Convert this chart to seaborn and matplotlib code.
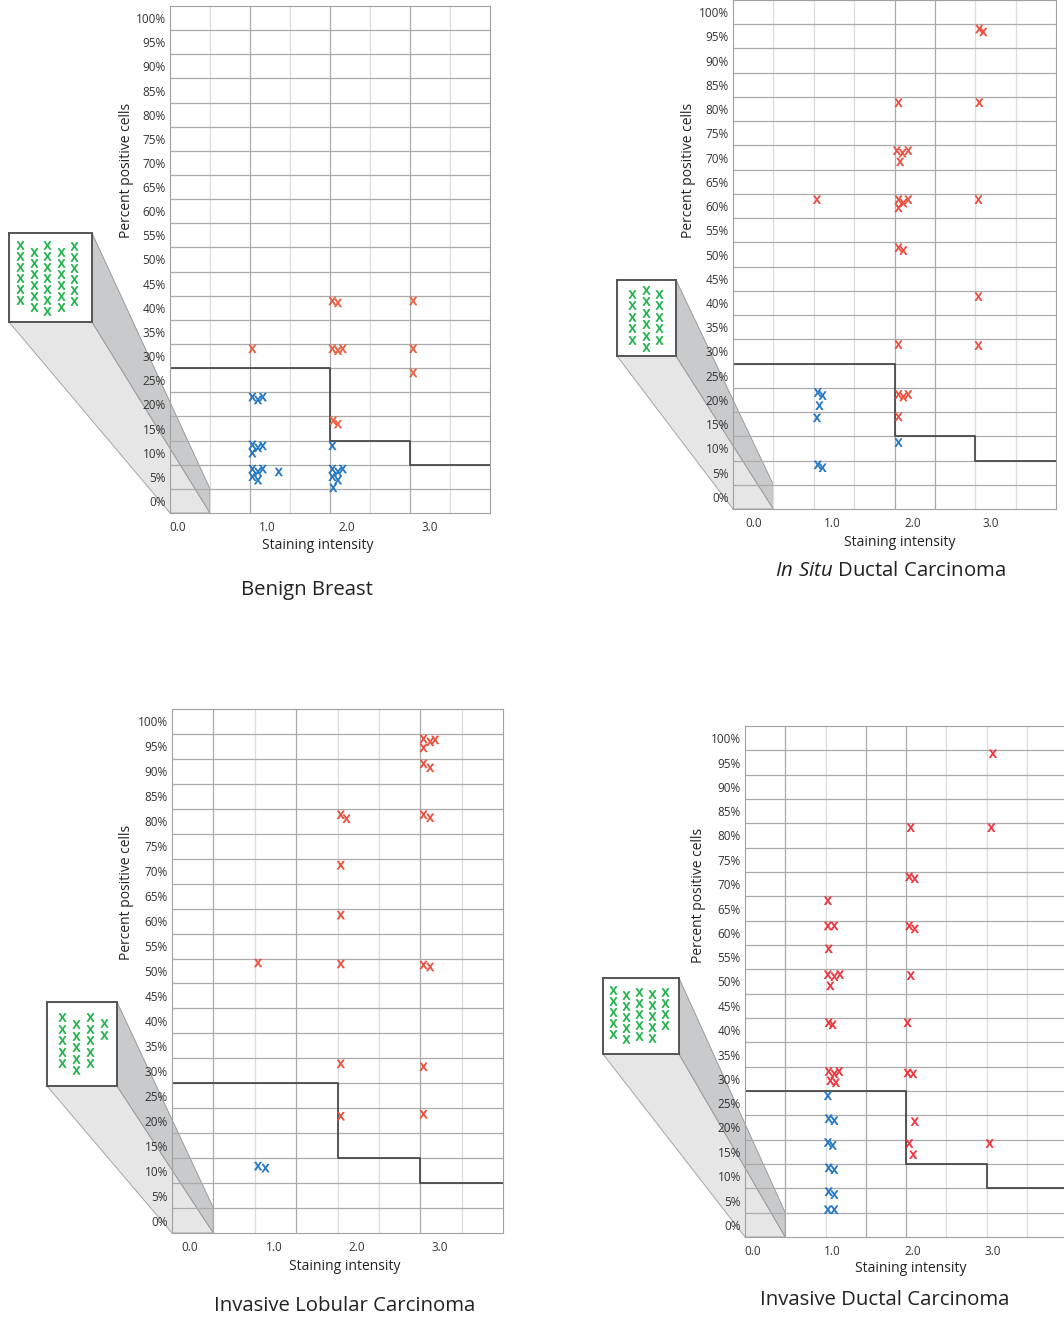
import numpy as np
import pandas as pd
import matplotlib.pyplot as plt
import seaborn as sns
from matplotlib.patches import Polygon

sns.set_style("white")
plt.rcParams["font.family"] = ["Open Sans", "DejaVu Sans"]
plt.rcParams["mathtext.fontset"] = "custom"
plt.rcParams["mathtext.rm"] = "Open Sans"
plt.rcParams["mathtext.it"] = "Open Sans:italic"
plt.rcParams["mathtext.sf"] = "Open Sans"

# ------------------------------------------------------------
# data
# ------------------------------------------------------------
titles = ["Benign Breast", r"$\mathit{In\ Situ}$ Ductal Carcinoma",
          "Invasive Lobular Carcinoma", "Invasive Ductal Carcinoma"]
pct_ticks = list(range(0, 101, 5))
int_labels = ["0.0", "1.0", "2.0", "3.0"]

# cut-off step line (same in every panel)
cut_x = [0, 2, 3, 4]
cut_y = [27.5, 12.5, 7.5, 7.5]

# Benign Breast
bb_pos_x = [2.03, 2.10, 3.04, 1.03, 2.03, 2.10, 2.16, 3.04, 3.04, 2.04, 2.10]
bb_pos_y = [41.4, 41.0, 41.4, 31.5, 31.5, 31.1, 31.5, 31.5, 26.5, 16.6, 15.9]
bb_neg_x = [1.03, 1.10, 1.16, 1.03, 1.10, 1.16, 1.03, 2.03,
            1.03, 1.10, 1.16, 1.03, 1.10, 1.36,
            2.03, 2.10, 2.16, 2.03, 2.10, 2.04]
bb_neg_y = [21.5, 20.9, 21.5, 11.6, 11.0, 11.4, 9.9, 11.4,
            6.6, 6.0, 6.6, 5.0, 4.3, 6.0,
            6.6, 6.0, 6.6, 5.0, 4.3, 2.7]
bb_zero = [6, 6, 7, 6, 6]

# In Situ Ductal Carcinoma
dc_pos_x = [3.05, 3.10, 2.05, 3.05, 2.03, 2.10, 2.17, 2.07,
            1.04, 2.05, 2.11, 2.17, 2.05, 3.04, 2.05, 2.11,
            3.04, 2.05, 3.04, 2.05, 2.11, 2.17, 2.05]
dc_pos_y = [96.5, 95.9, 81.3, 81.3, 71.4, 70.9, 71.4, 69.1,
            61.3, 61.3, 60.6, 61.3, 59.6, 61.3, 51.4, 50.8,
            41.3, 31.4, 31.2, 21.1, 20.6, 21.1, 16.5]
dc_neg_x = [1.05, 1.11, 1.07, 1.04, 2.05, 1.05, 1.11]
dc_neg_y = [21.5, 20.9, 18.8, 16.3, 11.2, 6.6, 6.0]
dc_zero = [5, 6, 5]

# Invasive Lobular Carcinoma
lc_pos_x = [1.04, 2.04, 2.11, 2.04, 2.04, 2.04, 2.04, 2.04,
            3.04, 3.12, 3.18, 3.04, 3.04, 3.12, 3.04, 3.12,
            3.04, 3.12, 3.04, 3.04]
lc_pos_y = [51.6, 81.3, 80.5, 71.2, 61.2, 51.4, 31.4, 20.9,
            96.5, 95.9, 96.3, 94.7, 91.5, 90.7, 81.3, 80.7,
            51.2, 50.8, 30.8, 21.3]
lc_neg_x = [1.04, 1.13]
lc_neg_y = [10.9, 10.5]
lc_zero = [5, 5, 5, 2]

# Invasive Ductal Carcinoma
ic_pos_x = [3.08, 2.06, 3.06, 2.04, 2.11, 1.03, 1.03, 1.11, 2.04, 2.11,
            1.04, 1.03, 1.11, 1.18, 1.06, 2.06, 1.04, 1.09, 2.02,
            1.04, 1.11, 1.17, 1.06, 1.13, 2.02, 2.09, 2.11, 2.04, 2.09, 3.04]
ic_pos_y = [96.8, 81.6, 81.6, 71.5, 71.1, 66.6, 61.4, 61.4, 61.4, 60.8,
            56.7, 51.4, 51.0, 51.4, 49.1, 51.2, 41.5, 41.1, 41.5,
            31.5, 31.0, 31.5, 29.6, 29.2, 31.2, 31.0, 21.2, 16.7, 14.4, 16.7]
ic_neg_x = [1.03, 1.04, 1.11, 1.03, 1.09, 1.04, 1.11, 1.04, 1.11, 1.03, 1.11]
ic_neg_y = [26.5, 21.8, 21.4, 16.9, 16.3, 11.7, 11.3, 6.8, 6.2, 3.1, 3.1]
ic_zero = [5, 5, 5, 5, 4]

# ------------------------------------------------------------
# layout (pixels in the 1064x1321 canvas)
# ------------------------------------------------------------
W, H = 1064, 1321
panels = [
    dict(pos=(bb_pos_x, bb_pos_y), neg=(bb_neg_x, bb_neg_y), zero=bb_zero,
         ax=(170, 6, 490, 513), box=(9, 233, 92, 322),
         box_grid=(11, 13.5, 12, 11, [0, 7, 0, 7, 1]),
         xt=[0.09, 1.21, 2.21, 3.25], dark=[1.0, 2.0, 3.0],
         ylab=(127, 170), xlab=(318, 545), title=(307, 590),
         red="#ef5a3a"),
    dict(pos=(dc_pos_x, dc_pos_y), neg=(dc_neg_x, dc_neg_y), zero=dc_zero,
         ax=(733, 0, 1056, 509), box=(617, 280, 676, 356),
         box_grid=(15, 13.5, 14, 11.5, [0, -4, 0]),
         xt=[0.25, 1.23, 2.23, 3.19], dark=[2.0, 2.5],
         ylab=(688, 170), xlab=(900, 543), title=(891, 571),
         red="#ee4a3a"),
    dict(pos=(lc_pos_x, lc_pos_y), neg=(lc_neg_x, lc_neg_y), zero=lc_zero,
         ax=(172, 709, 503, 1233), box=(47, 1002, 117, 1086),
         box_grid=(15, 14, 15, 11.5, [0, 7, 0, 6]),
         xt=[0.21, 1.24, 2.23, 3.23], dark=[0.5, 1.5, 3.0],
         ylab=(127, 892), xlab=(345, 1266), title=(345, 1306),
         red="#ec4a38"),
    dict(pos=(ic_pos_x, ic_pos_y), neg=(ic_neg_x, ic_neg_y), zero=ic_zero,
         ax=(745, 726, 1067, 1237), box=(603, 978, 679, 1054),
         box_grid=(10, 13, 12, 11, [0, 5, 2, 4, 2]),
         xt=[0.09, 1.09, 2.09, 3.08], dark=[0.5, 1.5, 2.0],
         ylab=(698, 895), xlab=(911, 1269), title=(885, 1300),
         red="#f0303a"),
]

blue = "#1f74c4"
green = "#1fb24a"
xmark = r"$\mathsf{x}$"


def frac(px, py):
    return px / W, 1 - py / H


fig = plt.figure(figsize=(W / 100, H / 100), dpi=100)
fig.patch.set_facecolor("white")

for i, p in enumerate(panels):
    l, t, r, b = p["ax"]
    ax = fig.add_axes([l / W, 1 - b / H, (r - l) / W, (b - t) / H])
    ax.set_facecolor("none")
    ax.set_xlim(0, 4)
    ax.set_ylim(-2.5, 102.5)

    # grid
    for v in np.arange(0.5, 4.0, 0.5):
        ax.axvline(v, color="#a9a9a9" if v in p["dark"] else "#dcdcdc", lw=0.9, zorder=0)
    for h in np.arange(2.5, 102.5, 5):
        ax.axhline(h, color="#ababab", lw=0.9, zorder=0)
    for s in ax.spines.values():
        s.set_color("#a0a0a0")
        s.set_linewidth(0.8)

    # points
    df = pd.concat([
        pd.DataFrame({"intensity": p["pos"][0], "pct": p["pos"][1], "grp": "pos"}),
        pd.DataFrame({"intensity": p["neg"][0], "pct": p["neg"][1], "grp": "neg"}),
    ])
    sns.scatterplot(data=df, x="intensity", y="pct", hue="grp",
                    palette={"pos": p["red"], "neg": blue}, marker=xmark,
                    s=32, linewidth=0.5, edgecolor="face", legend=False, ax=ax, zorder=3)

    # cut-off line
    ax.step(cut_x, cut_y, where="post", color="#4a4a4a", lw=1.3, zorder=2)

    ax.set_yticks(pct_ticks)
    ax.set_yticklabels([f"{v}%" for v in pct_ticks])
    ax.set_xticks(p["xt"])
    ax.set_xticklabels(int_labels)
    ax.tick_params(length=0, labelsize=8.5, labelcolor="#333333")
    ax.tick_params(axis="y", pad=3)
    ax.tick_params(axis="x", pad=6)
    ax.set_xlabel("")
    ax.set_ylabel("")

    fig.text(*frac(*p["ylab"]), "Percent positive cells", rotation=90,
             ha="center", va="center", fontsize=10, color="#222222")
    fig.text(*frac(*p["xlab"]), "Staining intensity",
             ha="center", va="center", fontsize=10, color="#222222")
    fig.text(*frac(*p["title"]), titles[i],
             ha="center", va="center", fontsize=14.7, color="#222222")

    # perspective "zoom" from the corner cell to the inset box
    inv = fig.transFigure.inverted()
    far = inv.transform(ax.transData.transform([(0, -2.5), (0.5, -2.5), (0.5, 2.5)]))
    bl, bt, br, bb = p["box"]
    b_tr = frac(br, bt)
    b_br = frac(br, bb)
    b_bl = frac(bl, bb)
    side = Polygon([b_tr, far[2], far[1], b_br], closed=True, transform=fig.transFigure,
                   facecolor="#c9cacc", edgecolor="#9a9a9a", lw=0.7, zorder=-1)
    bottom = Polygon([b_bl, b_br, far[1], far[0]], closed=True, transform=fig.transFigure,
                     facecolor="#e6e6e6", edgecolor="#a5a5a5", lw=0.7, zorder=-2)
    fig.add_artist(bottom)
    fig.add_artist(side)

    # inset box with the negative cases
    bw, bh = br - bl, bb - bt
    box = fig.add_axes([bl / W, 1 - bb / H, bw / W, bh / H], zorder=5)
    box.set_facecolor("white")
    box.set_xlim(0, bw)
    box.set_ylim(bh, 0)
    box.set_xticks([])
    box.set_yticks([])
    for s in box.spines.values():
        s.set_color("#555555")
        s.set_linewidth(1.4)
    x0, dx, y0, dy, stag = p["box_grid"]
    gx, gy = [], []
    for c, n in enumerate(p["zero"]):
        for rr in range(n):
            gx.append(x0 + c * dx)
            gy.append(y0 + stag[c] + rr * dy)
    sns.scatterplot(x=gx, y=gy, marker=xmark, color=green, s=32,
                    linewidth=0.5, edgecolor=green, ax=box)

fig.savefig("out.png", dpi=100)
